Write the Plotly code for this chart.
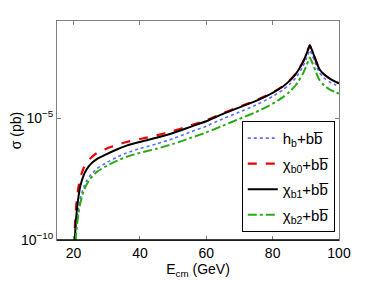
import plotly.graph_objects as go

energy = [20.2, 20.4, 20.6, 21, 21.5, 22, 23, 24, 25, 27, 30, 33, 36, 40, 45, 50, 55, 60,
          65, 70, 75, 80, 83, 85, 87, 89, 90, 91, 91.2, 92, 93, 94, 95, 96, 97, 98, 99, 100]

# log10 of sigma (pb)
log_sigma_hb = [-12.0, -10.4, -9.85, -9.2, -8.7, -8.3, -7.85, -7.55, -7.35, -7.07, -6.82, -6.6,
                -6.42, -6.24, -6.05, -5.83, -5.57, -5.32, -5.02, -4.74, -4.45, -4.1, -3.84,
                -3.62, -3.33, -2.9, -2.6, -2.26, -2.2, -2.43, -2.78, -3.1, -3.28, -3.4, -3.49,
                -3.56, -3.63, -3.7]
log_sigma_chib0 = [-11.0, -9.45, -8.9, -8.3, -7.8, -7.45, -7.05, -6.8, -6.65, -6.43, -6.24, -6.1,
                   -5.97, -5.85, -5.7, -5.52, -5.3, -5.08, -4.79, -4.52, -4.26, -3.94, -3.69,
                   -3.46, -3.16, -2.72, -2.42, -2.06, -2.0, -2.25, -2.62, -2.95, -3.13, -3.25,
                   -3.35, -3.43, -3.5, -3.56]
log_sigma_chib1 = [-11.5, -10.0, -9.4, -8.75, -8.2, -7.8, -7.35, -7.08, -6.9, -6.68, -6.47, -6.28,
                   -6.12, -5.97, -5.8, -5.6, -5.36, -5.12, -4.82, -4.55, -4.28, -3.95, -3.7,
                   -3.47, -3.17, -2.72, -2.42, -2.06, -2.0, -2.25, -2.62, -2.95, -3.13, -3.25,
                   -3.35, -3.43, -3.5, -3.56]
log_sigma_chib2 = [-12.3, -10.6, -10.05, -9.4, -8.9, -8.5, -8.0, -7.7, -7.48, -7.2, -6.95, -6.75,
                   -6.58, -6.42, -6.25, -6.05, -5.82, -5.58, -5.3, -5.02, -4.74, -4.4, -4.14,
                   -3.92, -3.63, -3.2, -2.9, -2.55, -2.5, -2.73, -3.08, -3.4, -3.58, -3.7, -3.8,
                   -3.87, -3.93, -3.98]

x_ticks = [20, 40, 60, 80, 100]
y_ticks = [1e-10, 1e-5]
y_tick_text = ["10<sup>\u221210</sup>", "10<sup>\u22125</sup>"]

bb = "+bb\u0305"
series = [
    ("h<sub>b</sub>" + bb, log_sigma_hb, "rgb(90,110,255)", "dot", 1.6),
    ("\u03c7<sub>b0</sub>" + bb, log_sigma_chib0, "rgb(235,0,0)", "dash", 2.2),
    ("\u03c7<sub>b1</sub>" + bb, log_sigma_chib1, "black", "solid", 2.0),
    ("\u03c7<sub>b2</sub>" + bb, log_sigma_chib2, "rgb(40,170,20)", "dashdot", 2.0),
]

fig = go.Figure()
for i, (name, logs, color, dash, width) in enumerate(series):
    fig.add_trace(go.Scatter(
        x=energy, y=[10 ** v for v in logs], mode="lines", name=name,
        legendgroup="g%d" % i,
        line=dict(color=color, dash=dash, width=width, shape="spline", smoothing=0.6),
    ))

font = "Liberation Sans, Arial, sans-serif"
fig.update_layout(
    width=366, height=273,
    margin=dict(l=49, r=35, t=13, b=41),
    paper_bgcolor="white", plot_bgcolor="white",
    font=dict(family=font, size=14, color="black"),
    showlegend=True,
    legend=dict(
        x=0.985, y=0.037, xanchor="right", yanchor="bottom",
        bgcolor="white", bordercolor="black", borderwidth=1,
        font=dict(size=15), tracegroupgap=3, itemwidth=30,
    ),
    xaxis=dict(
        range=[15, 100], tickvals=x_ticks, ticks="inside", ticklen=4,
        tickcolor="#808080", showline=True, linecolor="#808080", mirror="ticks",
        showgrid=False, zeroline=False, automargin=False,
        title=dict(text="E<sub>cm</sub> (GeV)", standoff=0, font=dict(size=14)),
        tickfont=dict(size=14),
    ),
    yaxis=dict(
        type="log", range=[-10, -1], tickvals=y_ticks, ticktext=y_tick_text,
        ticks="inside", ticklen=4, tickcolor="#808080", showline=True,
        linecolor="#808080", mirror="ticks", showgrid=False, zeroline=False,
        automargin=False,
        title=dict(text="\u03c3 (pb)", standoff=4, font=dict(size=14)),
        tickfont=dict(size=14),
    ),
    shapes=[dict(type="line", xref="paper", yref="paper", x0=0, x1=1, y0=0, y1=0,
                 line=dict(color="black", width=1.5))],
)

fig.write_html("out.html")
